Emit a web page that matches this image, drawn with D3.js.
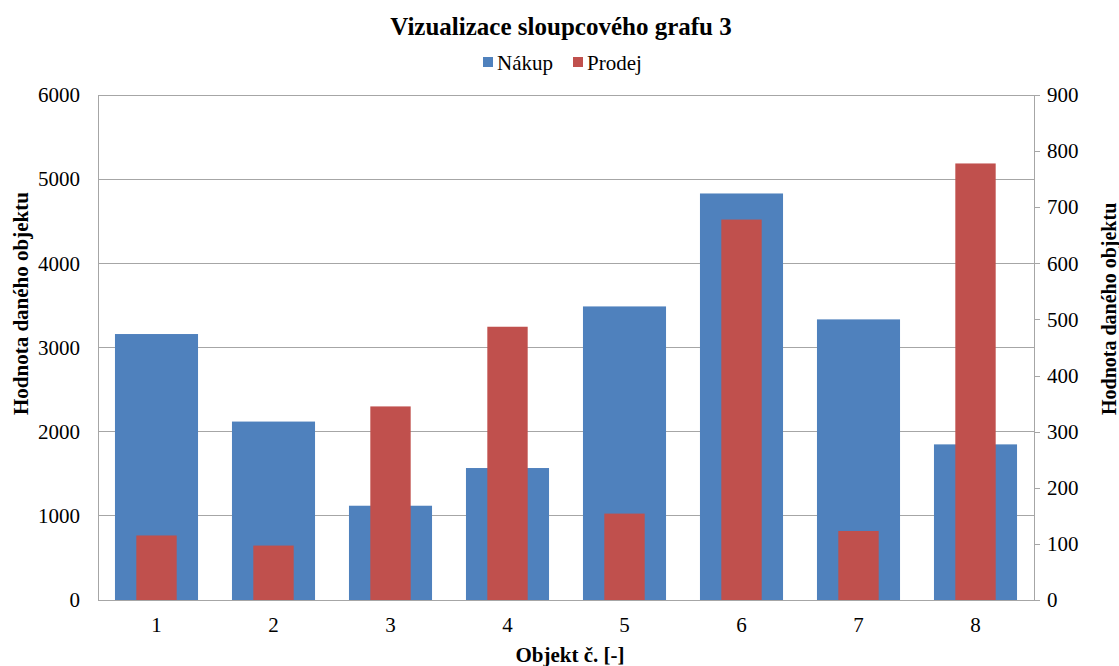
<!DOCTYPE html>
<html><head><meta charset="utf-8">
<script src="https://cdn.jsdelivr.net/npm/d3@7"></script>
<style>body{margin:0;background:#fff}svg{display:block}</style>
</head><body>
<script>
const categories = ["1","2","3","4","5","6","7","8"];
const nakup = [3160, 2120, 1120, 1568, 3488, 4830, 3334, 1849];
const prodej = [115, 97, 345, 487, 154, 678, 123, 778];
const leftTicks = [0,1000,2000,3000,4000,5000,6000];
const rightTicks = [0,100,200,300,400,500,600,700,800,900];
const seriesNames = ["Nákup","Prodej"];
const colors = ["#4F81BD","#C0504D"];

const FONT="'Liberation Serif', 'Times New Roman', 'DejaVu Serif', serif";
const W=1119,H=666;
const m={l:98,r:1034,t:95,b:600};
const svg=d3.select("body").append("svg").attr("width",W).attr("height",H)
 .style("font-family",FONT);

const x=d3.scaleBand().domain(categories).range([m.l,m.r]).paddingInner(0).paddingOuter(0);
const yL=d3.scaleLinear().domain([0,6000]).range([m.b,m.t]);
const yR=d3.scaleLinear().domain([0,900]).range([m.b,m.t]);

// gridlines
svg.append("g").selectAll("line").data(leftTicks.slice(1)).join("line")
 .attr("x1",m.l).attr("x2",m.r).attr("y1",d=>yL(d)).attr("y2",d=>yL(d))
 .attr("stroke","#a6a6a6").attr("stroke-width",1).attr("shape-rendering","crispEdges");

// bars
const bw=x.bandwidth();
const wBlue=bw*0.71, wRed=bw*0.345;
svg.append("g").selectAll("rect").data(nakup).join("rect")
 .attr("x",(d,i)=>x(categories[i])+(bw-wBlue)/2).attr("width",wBlue)
 .attr("y",d=>yL(d)).attr("height",d=>m.b-yL(d)).attr("fill",colors[0]);
svg.append("g").selectAll("rect").data(prodej).join("rect")
 .attr("x",(d,i)=>x(categories[i])+(bw-wRed)/2).attr("width",wRed)
 .attr("y",d=>yR(d)).attr("height",d=>m.b-yR(d)).attr("fill",colors[1]);

// axes
const fmt=d3.format("d");
const axL=d3.axisLeft(yL).tickValues(leftTicks).tickFormat(fmt).tickSize(0).tickPadding(18);
const gL=svg.append("g").attr("transform",`translate(${m.l},0)`).call(axL);
const axR=d3.axisRight(yR).tickValues(rightTicks).tickFormat(fmt).tickSize(6).tickPadding(7);
const gR=svg.append("g").attr("transform",`translate(${m.r},0)`).call(axR);
const axB=d3.axisBottom(x).tickSize(0).tickPadding(14);
const gB=svg.append("g").attr("transform",`translate(0,${m.b})`).call(axB);
[gL,gR,gB].forEach(g=>{
 g.attr("font-family",FONT).attr("font-size",21);
 g.select(".domain").attr("stroke","#a6a6a6").attr("shape-rendering","crispEdges");
 g.selectAll(".tick line").attr("stroke","#a6a6a6").attr("shape-rendering","crispEdges");
 g.selectAll("text").attr("fill","#000");
});
gB.selectAll("text").attr("dy","0.85em");

// title
svg.append("text").attr("x",561).attr("y",35).attr("text-anchor","middle")
 .attr("font-size",25).attr("font-weight","bold").text("Vizualizace sloupcového grafu 3");
// axis titles
svg.append("text").attr("transform","translate(28,415) rotate(-90)").attr("text-anchor","start")
 .attr("font-size",21).attr("font-weight","bold").text("Hodnota daného objektu");
svg.append("text").attr("transform","translate(1116,415) rotate(-90)").attr("text-anchor","start")
 .attr("font-size",20).attr("font-weight","bold").text("Hodnota daného objektu");
svg.append("text").attr("x",570).attr("y",662).attr("text-anchor","middle")
 .attr("font-size",21).attr("font-weight","bold").text("Objekt č. [-]");

// legend
const lg=svg.append("g");
const legX=[483,573];
seriesNames.forEach((n,i)=>{
 lg.append("rect").attr("x",legX[i]).attr("y",57).attr("width",10).attr("height",10).attr("fill",colors[i]);
 lg.append("text").attr("x",legX[i]+14).attr("y",70).attr("font-size",21).text(n);
});
</script>
</body></html>
